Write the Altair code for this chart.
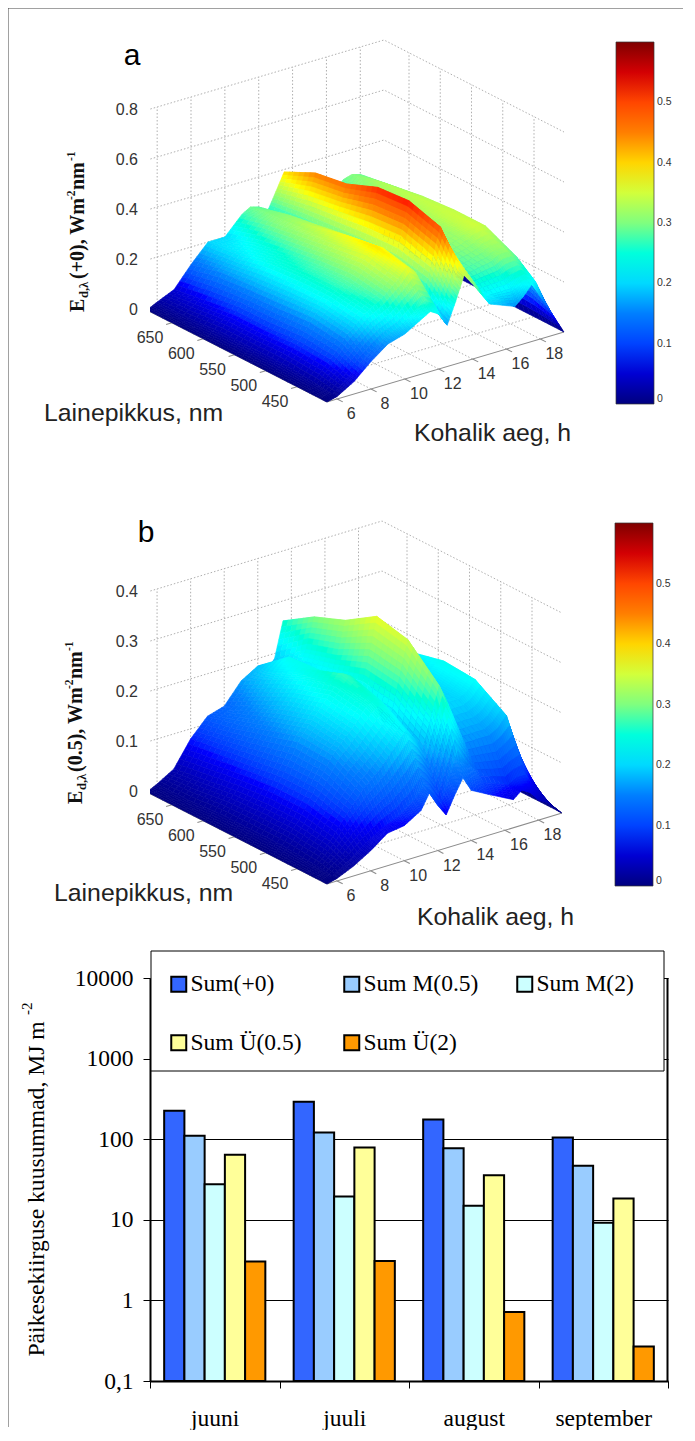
import altair as alt
import pandas as pd

HOURS = [5.4, 6, 7, 8, 9, 10, 11, 11.5, 12, 12.5, 13, 13.5, 14, 15, 16.5, 17, 17.5, 18, 18.5, 19.4]
WAVES = [690, 640, 590, 540, 490, 440, 410, 402]
SURF_A = [
    [0, .02, .05, .13, .20, .20, .27, .29, .28, .25, .32, .39, .36, .22, .26, .29, .30, .29, .18, 0],
    [0, .02, .07, .16, .21, .24, .30, .31, .31, .26, .35, .45, .40, .26, .29, .32, .33, .31, .20, 0],
    [0, .03, .09, .17, .24, .26, .32, .34, .33, .26, .37, .47, .42, .28, .31, .33, .34, .33, .21, 0],
    [0, .03, .09, .18, .25, .28, .34, .37, .35, .26, .39, .52, .45, .29, .32, .34, .345, .34, .22, 0],
    [0, .03, .10, .19, .25, .29, .36, .39, .37, .26, .40, .53, .45, .29, .32, .34, .35, .34, .22, 0],
    [0, .02, .09, .17, .23, .27, .33, .37, .34, .24, .36, .49, .40, .27, .29, .31, .31, .28, .19, 0],
    [0, .01, .06, .12, .17, .20, .25, .27, .25, .18, .27, .37, .33, .22, .22, .23, .24, .22, .14, 0],
    [0, .01, .05, .11, .16, .18, .22, .24, .22, .165, .25, .345, .30, .20, .16, .19, .23, .17, .11, 0],
]
SURF_B = [
    [0, .01, .03, .08, .115, .125, .165, .175, .185, .17, .19, .26, .25, .15, .15, .16, .18, .17, .10, 0],
    [0, .01, .04, .09, .13, .16, .20, .22, .235, .20, .24, .30, .28, .17, .17, .18, .20, .19, .11, 0],
    [0, .015, .05, .10, .15, .19, .23, .245, .24, .21, .26, .325, .30, .19, .19, .20, .22, .20, .12, 0],
    [0, .015, .055, .11, .17, .21, .25, .27, .26, .22, .29, .365, .33, .20, .20, .22, .235, .21, .13, 0],
    [0, .015, .055, .11, .165, .20, .24, .25, .24, .21, .28, .35, .31, .20, .20, .21, .23, .19, .11, 0],
    [0, .01, .045, .09, .13, .16, .20, .22, .20, .17, .23, .29, .25, .16, .16, .17, .19, .13, .08, 0],
    [0, .005, .025, .05, .07, .085, .11, .13, .11, .08, .13, .18, .15, .10, .08, .09, .09, .06, .04, 0],
    [0, .005, .02, .04, .065, .07, .09, .12, .09, .066, .10, .13, .10, .082, .056, .07, .06, .04, .03, 0],
]
HOUR_TICKS = [6, 8, 10, 12, 14, 16, 18]
WAVE_TICKS = [650, 600, 550, 500, 450]
Z_TICKS_A = [0, .2, .4, .6, .8]
Z_TICKS_B = [0, .1, .2, .3, .4]
JET = ['#00007F', '#0000FF', '#007FFF', '#00FFFF', '#7FFF7F', '#FFFF00', '#FF7F00', '#FF0000', '#7F0000']

MONTHS = ['juuni', 'juuli', 'august', 'september']
SERIES = ['Sum(+0)', 'Sum M(0.5)', 'Sum M(2)', 'Sum Ü(0.5)', 'Sum Ü(2)']
BAR_COLORS = ['#3366FF', '#99CCFF', '#CCFFFF', '#FFFF99', '#FF9900']
BAR_VALUES = [
    [225, 291, 176, 105],
    [110, 121, 77, 47],
    [27.7, 19.5, 14.9, 9.2],
    [64, 79, 35.8, 18.4],
    [3.03, 3.09, 0.72, 0.267],
]

SERIF = 'Liberation Serif'
SANS = 'Liberation Sans'
ONE = {'values': [{}]}
SUB = 6


def make_proj(panel):
    ox, oy = panel['origin']
    L, F, R = panel['left'], panel['front'], panel['right']
    zs = panel['zscale']

    def proj(h, w, z=0.0):
        a = (690 - w) / 288
        b = (h - 5.4) / 14
        x = L[0] + a * (F[0] - L[0]) + b * (R[0] - F[0])
        y = L[1] + a * (F[1] - L[1]) + b * (R[1] - F[1]) - z * zs
        return [round(x - ox, 2), round(y - oy, 2)]
    return proj


def surface_features(proj, grid):
    feats = []
    for i in range(len(HOURS) - 2, -1, -1):
        for j in range(len(WAVES) - 1):
            for si in range(SUB - 1, -1, -1):
                for sj in range(SUB):
                    def val(p, q):
                        return ((1 - p) * (1 - q) * grid[j][i] + p * (1 - q) * grid[j][i + 1]
                                + (1 - p) * q * grid[j + 1][i] + p * q * grid[j + 1][i + 1])

                    def pt(p, q):
                        h = HOURS[i] + p * (HOURS[i + 1] - HOURS[i])
                        w = WAVES[j] + q * (WAVES[j + 1] - WAVES[j])
                        return proj(h, w, val(p, q))
                    p0, p1 = si / SUB, (si + 1) / SUB
                    q0, q1 = sj / SUB, (sj + 1) / SUB
                    ring = [pt(p0, q0), pt(p1, q0), pt(p1, q1), pt(p0, q1), pt(p0, q0)]
                    v = (val(p0, q0) + val(p1, q0) + val(p1, q1) + val(p0, q1)) / 4
                    feats.append({'type': 'Feature', 'properties': {'v': round(v, 4)},
                                  'geometry': {'type': 'Polygon', 'coordinates': [ring]}})
    return feats


def line_feature(points):
    return {'type': 'Feature', 'properties': {},
            'geometry': {'type': 'LineString', 'coordinates': points}}


def geo(features, **kw):
    return alt.Chart(alt.Data(values=features)).mark_geoshape(**kw).project(
        type='identity', scale=1, translate=[0, 0])


def label(text, x, y, origin, size=16, font=SANS, color='#333333', align='center', baseline='middle',
          angle=0, weight='normal'):
    return alt.Chart(pd.DataFrame({'t': [text]})).mark_text(
        font=font, fontSize=size, color=color, align=align, baseline=baseline, angle=angle,
        fontWeight=weight).encode(x=alt.value(x - origin[0]), y=alt.value(y - origin[1]), text='t:N')


def frame(x, x2, y, y2, origin, color='#444444', width=1.5):
    return alt.Chart(ONE).mark_rule(color=color, strokeWidth=width).encode(
        x=alt.value(x - origin[0]), x2=alt.value(x2 - origin[0]),
        y=alt.value(y - origin[1]), y2=alt.value(y2 - origin[1]))


def panel3d(panel, grid, zticks, ylabel_parts):
    proj = make_proj(panel)
    o = panel['origin']
    hmin, hmax, wmax, wmin = 5.4, 19.4, 690, 402
    ztop = zticks[-1]
    floor, walls, axes = [], [], []
    for h in HOUR_TICKS:
        floor.append(line_feature([proj(h, wmin), proj(h, wmax)]))
        walls.append(line_feature([proj(h, wmax), proj(h, wmax, ztop)]))
        axes.append(line_feature([proj(h, wmin), proj(h, wmin - 9)]))
    for w in WAVE_TICKS:
        floor.append(line_feature([proj(hmin, w), proj(hmax, w)]))
        walls.append(line_feature([proj(hmax, w), proj(hmax, w, ztop)]))
        axes.append(line_feature([proj(hmin, w), proj(hmin - 0.35, w)]))
    for z in zticks:
        walls.append(line_feature([proj(hmin, wmax, z), proj(hmax, wmax, z), proj(hmax, wmin, z)]))
        p = proj(hmin, wmax, z)
        axes.append(line_feature([p, [p[0] - 5, p[1] - 1.5]]))
    axes.append(line_feature([proj(hmin, wmax), proj(hmin, wmax, ztop)]))
    axes.append(line_feature([proj(hmin, wmax), proj(hmin, wmin), proj(hmax, wmin)]))

    layers = [
        geo(floor + walls, filled=False, stroke='#9a9a9a', strokeWidth=0.8, strokeDash=[1.5, 2]),
        geo(axes, filled=False, stroke='#8c8c8c', strokeWidth=1.1),
    ]
    jet = alt.Scale(domain=[0, 0.6], range=JET)
    layers.append(geo(surface_features(proj, grid), strokeWidth=0.6).encode(
        color=alt.Color('properties.v:Q', scale=jet, legend=alt.Legend(
            orient='none', legendX=panel['bar'][0] - o[0], legendY=panel['bar'][1] - o[1], title=None,
            type='gradient', direction='vertical', gradientLength=panel['bar'][3], gradientThickness=panel['bar'][2],
            gradientStrokeColor='#333333', gradientStrokeWidth=0.7, padding=0,
            values=[0, .1, .2, .3, .4, .5], labelFont=SANS, labelFontSize=10.5, labelColor='#333333', labelOffset=3,
            labelOverlap=False, labelExpr="datum.value==0?'0':format(datum.value,'.1f')")),
        stroke=alt.Stroke('properties.v:Q', scale=jet, legend=None)))

    for z in zticks:
        p = proj(hmin, wmax, z)
        txt = '0' if z == 0 else f'{z:.1f}'
        layers.append(label(txt, p[0] + o[0] - 9, p[1] + o[1], o, align='right'))
    for w in WAVE_TICKS:
        p = proj(hmin, w)
        layers.append(label(str(w), p[0] + o[0] - 22, p[1] + o[1] + 15, o))
    for h in HOUR_TICKS:
        p = proj(h, wmin)
        layers.append(label(str(h), p[0] + o[0] + 14, p[1] + o[1] + 15, o))

    layers.append(label(panel['tag'], panel['tagpos'][0], panel['tagpos'][1], o, size=30, color='black'))
    layers.append(label('Lainepikkus, nm', panel['xt'][0], panel['xt'][1], o, size=24.8, align='left', color='#222222'))
    layers.append(label('Kohalik aeg, h', panel['ht'][0], panel['ht'][1], o, size=24.8, align='left', color='#222222'))
    for text, x, y, size in ylabel_parts:
        layers.append(label(text, x, y, o, size=size, font=SERIF, color='#111111', align='left',
                            baseline='alphabetic', angle=270, weight='bold'))
    layers.append(frame(8.75, 8.75, o[1], o[1] + panel['h'], o))
    if panel['tag'] == 'a':
        layers.append(frame(8, 684, 8.75, 8.75, o))
    return alt.layer(*layers).properties(width=518, height=panel['h'])


PANEL_A = dict(origin=(151, 8), left=(148, 311), front=(328, 403), right=(565, 333), zscale=250, h=480,
               bar=(617, 43, 38, 362), tag='a', tagpos=(133, 57), xt=(45, 415), ht=(415, 435))
PANEL_B = dict(origin=(151, 488), left=(148, 793), front=(328, 885), right=(563, 814), zscale=500, h=491,
               bar=(616, 524, 38, 363), tag='b', tagpos=(147, 534), xt=(55, 895), ht=(418, 919))

LABEL_A = [('E', 85, 313, 20), ('d,λ', 89, 299, 12.5), ('(+0), Wm', 85, 280, 20), ('-2', 76, 201, 11.5),
           ('nm', 85, 191, 20), ('-1', 76, 162, 11.5)]
LABEL_B = [('E', 83, 805, 20), ('d,λ', 87, 791, 12.5), ('(0.5), Wm', 83, 773, 20), ('-2', 74, 690, 11.5),
           ('nm', 83, 680, 20), ('-1', 74, 652, 11.5)]

chart_a = panel3d(PANEL_A, SURF_A, Z_TICKS_A, LABEL_A)
chart_b = panel3d(PANEL_B, SURF_B, Z_TICKS_B, LABEL_B)

bar_rows = [{'month': m, 'series': s, 'value': BAR_VALUES[i][k]}
            for i, s in enumerate(SERIES) for k, m in enumerate(MONTHS)]
O_C = (151, 979)
bars = alt.Chart(pd.DataFrame(bar_rows)).mark_bar(stroke='black', strokeWidth=2).encode(
    x=alt.X('month:N', sort=MONTHS, scale=alt.Scale(paddingInner=0, paddingOuter=0), axis=alt.Axis(
        title=None, labelAngle=0, tickBand='extent', labelFont=SERIF, labelFontSize=23.5, labelColor='black',
        domainColor='black', domainWidth=2, tickColor='black', tickWidth=1, tickSize=7, labelPadding=18)),
    xOffset=alt.XOffset('series:N', sort=SERIES, scale=alt.Scale(paddingOuter=0.7, paddingInner=0)),
    y=alt.Y('value:Q', stack=None, scale=alt.Scale(type='log', domain=[0.1, 10000]), axis=alt.Axis(
        title='Päikesekiirguse kuusummad, MJ m', titleFont=SERIF, titleFontSize=23.6, titleFontWeight='normal',
        titleColor='black', titleAngle=270, titleAlign='left', titleBaseline='alphabetic',
        titleX=44 - O_C[0], titleY=1357 - O_C[1],
        values=[0.1, 1, 10, 100, 1000, 10000], grid=True, gridColor='black', gridWidth=1,
        labelFont=SERIF, labelFontSize=23.5, labelColor='black', labelPadding=10,
        labelExpr="datum.value<1?'0,1':format(datum.value,'d')",
        domainColor='black', domainWidth=2, tickColor='black', tickWidth=1, tickSize=7)),
    y2=alt.value(403),
    color=alt.Color('series:N', sort=SERIES, scale=alt.Scale(domain=SERIES, range=BAR_COLORS), legend=alt.Legend(
        orient='none', legendX=168 - O_C[0], legendY=973 - O_C[1], title=None, columns=3, gridAlign='all',
        direction='horizontal',
        symbolType='square', symbolSize=225, symbolStrokeColor='black', symbolStrokeWidth=2,
        labelFont=SERIF, labelFontSize=23.5, labelColor='black', labelOffset=0,
        columnPadding=34, rowPadding=34, padding=0, labelLimit=200)),
)
box = alt.Chart(ONE).mark_rect(fill='white', stroke='black', strokeWidth=1).encode(
    x=alt.value(152 - O_C[0]), x2=alt.value(665 - O_C[0]), y=alt.value(952 - O_C[1]), y2=alt.value(1072 - O_C[1]))
chart_c = alt.layer(
    bars, box,
    frame(668.5, 668.5, 979, 1382, O_C, color='black', width=2),
    label('-2', 33, 1016, O_C, size=15, font=SERIF, color='black', align='left', baseline='alphabetic', angle=270),
    frame(8.75, 8.75, 979, 1428, O_C),
).properties(width=518, height=403)

chart = alt.vconcat(chart_a, chart_b, chart_c, spacing=0, bounds='flush').properties(
    padding={'left': -2, 'top': -2, 'right': 0, 'bottom': 0}, background='white'
).configure_view(stroke=None)

chart.save("out.html", embed_options={"renderer": "svg", "actions": False})
